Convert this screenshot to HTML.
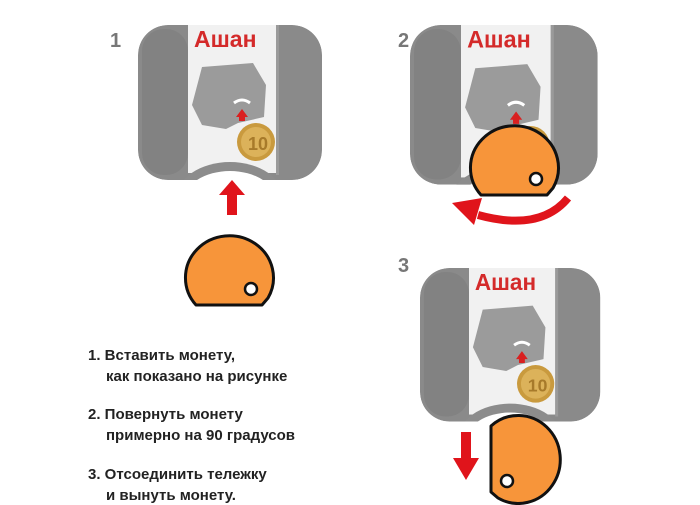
<!DOCTYPE html>
<html><head><meta charset="utf-8"><style>
html,body{margin:0;padding:0;background:#fff;width:700px;height:505px;overflow:hidden}
svg{display:block}
</style></head><body>
<svg width="700" height="505" viewBox="0 0 700 505" xmlns="http://www.w3.org/2000/svg">
<defs>
<clipPath id="bc"><rect x="0" y="0" width="184" height="155" rx="30"/></clipPath>
<g id="holder">
  <g clip-path="url(#bc)">
    <rect x="0" y="0" width="184" height="155" rx="30" fill="#8a8a8a"/>
    <rect x="4" y="4" width="46" height="146" rx="22" fill="#828282"/>
    <rect x="50" y="0" width="88" height="148" fill="#f1f1f1"/>
    <rect x="138" y="0" width="3" height="150" fill="#9a9a9a"/>
    <ellipse cx="92" cy="174" rx="54" ry="37" fill="#8c8c8c"/>
    <ellipse cx="92" cy="176" rx="46" ry="30" fill="#fff"/>
  </g>
  <path d="M64 42 L115 38 L128 60 L126 92 L100 98 L88 104 L64 100 L54 80 Z" fill="#9b9b9b"/>
  <path d="M96 78 q8 -6 16 0" stroke="#fff" stroke-width="3" fill="none"/>
  <path d="M98 92 l6 -8 l6 8 l-3 0 l0 4 l-6 0 l0 -4z" fill="#d92020"/>
  <circle cx="118" cy="117" r="19" fill="#c99a3e"/>
  <circle cx="118" cy="117" r="15" fill="#dcb25a"/>
  <text x="110" y="125" font-family="Liberation Sans, sans-serif" font-size="18" font-weight="bold" fill="#a77a2a">10</text>
  <text x="56" y="22" font-family="Liberation Sans, DejaVu Sans, sans-serif" font-size="23" font-weight="bold" fill="#d42a2a">Ашан</text>
</g>
<g id="coin">
  <path d="M12 73 A44 42 0 1 1 84 66 L78 73 Z" fill="#f7953a" stroke="#111" stroke-width="3" stroke-linejoin="round"/>
  <circle cx="67" cy="57" r="6" fill="#fff" stroke="#111" stroke-width="2.5"/>
</g>
</defs>

<text x="110" y="47" font-family="Liberation Sans, sans-serif" font-size="20" font-weight="bold" fill="#777">1</text>
<text x="398" y="47" font-family="Liberation Sans, sans-serif" font-size="20" font-weight="bold" fill="#777">2</text>
<text x="398" y="272" font-family="Liberation Sans, sans-serif" font-size="20" font-weight="bold" fill="#777">3</text>

<use href="#holder" transform="translate(138,25)"/>
<use href="#holder" transform="translate(410,25) scale(1.02,1.03)"/>
<use href="#holder" transform="translate(420,268) scale(0.98,0.99)"/>

<path d="M227 215 L227 195 L219 195 L232 180 L245 195 L237 195 L237 215 Z" fill="#e0141b"/>
<path d="M461 432 L461 458 L453 458 L466 480 L479 458 L471 458 L471 432 Z" fill="#e0141b"/>
<path d="M568 198 Q540 232 478 215" stroke="#e0141b" stroke-width="8" fill="none"/>
<path d="M452 203 L482 198 L474 225 Z" fill="#e0141b"/>

<use href="#coin" transform="translate(184,232)"/>
<use href="#coin" transform="translate(469,122)"/>
<use href="#coin" transform="translate(564,414) rotate(90)"/>

<g font-family="Liberation Sans, DejaVu Sans, sans-serif" font-size="15" font-weight="bold" fill="#222">
<text x="88" y="360">1. Вставить монету,</text>
<text x="106" y="381">как показано на рисунке</text>
<text x="88" y="419">2. Повернуть монету</text>
<text x="106" y="440">примерно на 90 градусов</text>
<text x="88" y="479">3. Отсоединить тележку</text>
<text x="106" y="500">и вынуть монету.</text>
</g>
</svg>
</body></html>
